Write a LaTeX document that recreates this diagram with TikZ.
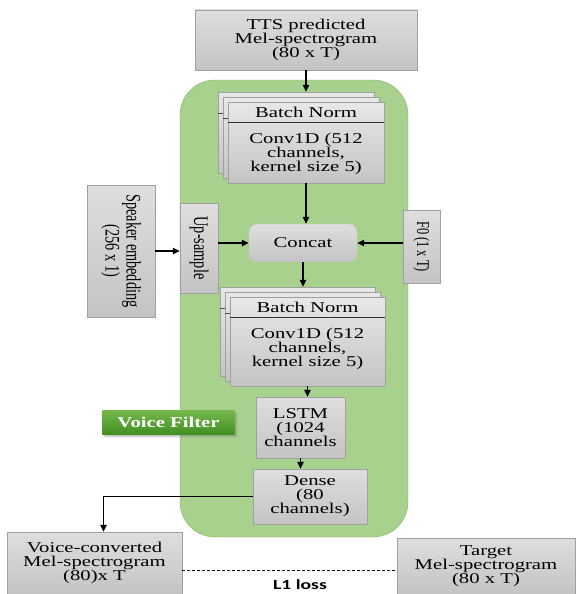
\documentclass[tikz,border=0pt]{standalone}
\usepackage{fontspec}
\setmainfont{Liberation Serif}[FakeStretch=1.38]
\newfontfamily\rotfont{Liberation Serif}[FakeStretch=0.69]
\newfontfamily\lossfont{Carlito}[FakeStretch=1.4]
\usepackage{tikz}
\usetikzlibrary{arrows.meta, calc, shadows}
\definecolor{boxtop}{RGB}{222,222,222}
\definecolor{boxbot}{RGB}{196,196,196}
\definecolor{edgegray}{RGB}{160,160,160}
\definecolor{filtergreen}{RGB}{169,209,142}
\definecolor{filteredge}{RGB}{125,184,92}
\definecolor{tagtop}{RGB}{118,184,76}
\definecolor{tagbot}{RGB}{64,142,34}

\tikzset{
  graybox/.style={draw=edgegray, top color=boxtop, bottom color=boxbot, inner sep=1pt,
    align=center, font=\fontsize{15}{14}\selectfont},
  sheet/.style={draw=edgegray, top color=boxtop!70!white, bottom color=boxbot,
    minimum width=156pt, minimum height=81pt},
  sidetext/.style={rotate=-90, align=center, font=\fontsize{20.7}{21}\rotfont},
  flow/.style={-{Triangle[length=7pt,width=6.5pt]}, line width=1.4pt},
}

\begin{document}
\begin{tikzpicture}[x=1pt,y=-1pt]
  \useasboundingbox (0,0) rectangle (576,594);
  % voice filter block
  \node[draw=filteredge, fill=filtergreen, rounded corners=35pt, minimum width=228pt,
    minimum height=457pt] (filter) at (294,308.5) {};
  \node[graybox, minimum width=222pt, minimum height=60pt] (tts) at (306,40)
    {TTS predicted\\Mel-spectrogram\\(80 x T)};
  % first conv stack
  \foreach \d/\n in {10/c,5/b}{
    \node[sheet] (conv1\n) at (306-\d,142.5-\d) {};
    \draw[black!70] ($(conv1\n.north west)+(0,21)$) -- ($(conv1\n.north east)+(0,21)$);
  }
  \node[sheet] (conv1) at (306,142.5) {};
  \draw[black!80] ($(conv1.north west)+(0,20)$) -- ($(conv1.north east)+(0,20)$);
  \node[font=\fontsize{15}{14}\selectfont] (norm1) at ($(conv1.north)+(0,10.5)$) {Batch Norm};
  \node[align=center, font=\fontsize{15}{13.5}\selectfont] (body1) at ($(conv1.north)+(0,52)$)
    {Conv1D (512\\channels,\\kernel size 5)};
  % concat and side inputs
  \node[graybox, draw=gray!45, rounded corners=8pt, minimum width=108pt, minimum height=38pt]
    (concat) at (303,243) {Concat};
  \node[graybox, minimum width=68pt, minimum height=132pt] (spk) at (121,251) {};
  \node[sidetext] (spktext) at (spk) {Speaker embedding\\(256 x 1)};
  \node[graybox, minimum width=38pt, minimum height=90pt] (up) at (199,248) {};
  \node[sidetext] (uptext) at (up) {Up-sample};
  \node[graybox, minimum width=37pt, minimum height=73pt] (f0) at (421.5,246.5) {};
  \node[sidetext, font=\fontsize{18}{18}\rotfont] (f0text) at (f0) {F0 (1 x T)};
  % second conv stack
  \foreach \d/\n in {10/c,5/b}{
    \node[sheet, minimum width=155pt, minimum height=89pt] (conv2\n) at (307.5-\d,341.5-\d) {};
    \draw[black!70] ($(conv2\n.north west)+(0,21)$) -- ($(conv2\n.north east)+(0,21)$);
  }
  \node[sheet, minimum width=155pt, minimum height=89pt] (conv2) at (307.5,341.5) {};
  \draw[black!80] ($(conv2.north west)+(0,20)$) -- ($(conv2.north east)+(0,20)$);
  \node[font=\fontsize{15}{14}\selectfont] (norm2) at ($(conv2.north)+(0,10.5)$) {Batch Norm};
  \node[align=center, font=\fontsize{15}{13.5}\selectfont] (body2) at ($(conv2.north)+(0,52)$)
    {Conv1D (512\\channels,\\kernel size 5)};
  \node[graybox, minimum width=89pt, minimum height=61pt] (lstm) at (300.5,427.5)
    {LSTM\\(1024\\channels};
  \node[graybox, minimum width=114pt, minimum height=55pt] (dense) at (310,496.5)
    {Dense\\(80\\channels)};
  \node[top color=tagtop, bottom color=tagbot, text=white, rounded corners=1pt,
    drop shadow={opacity=0.35}, minimum width=133pt, minimum height=25pt,
    font=\fontsize{15}{15}\selectfont\bfseries] (vftag) at (168.5,422.5) {Voice Filter};
  % outputs
  \node[graybox, minimum width=175pt, minimum height=62pt] (vc) at (94.5,563)
    {Voice-converted\\Mel-spectrogram\\(80)x T};
  \node[graybox, minimum width=178pt, minimum height=56pt] (target) at (486,566)
    {Target\\Mel-spectrogram\\(80 x T)};
  \coordinate (lossline) at (0,570);
  \draw[dash pattern=on 3pt off 2pt, line width=0.8pt] (vc.east |- lossline) -- (target.west |- lossline);
  \node[font=\fontsize{14}{14}\lossfont\bfseries] (loss) at (300,585) {L1 loss};
  % arrows
  \draw[flow] (tts.south) -- (tts.south |- conv1c.north);
  \draw[flow] (conv1.south) -- (conv1.south |- concat.north);
  \draw[flow] (spk.east) -- (spk.east -| up.west);
  \draw[flow] (up.east |- concat.west) -- (concat.west);
  \draw[flow] (f0.west |- concat.east) -- (concat.east);
  \draw[flow] (concat.south) -- (concat.south |- conv2c.north);
  \draw[flow] (conv2.south) -- (conv2.south |- lstm.north);
  \draw[flow] (lstm.south) -- (lstm.south |- dense.north);
  \draw[flow] (dense.west) -| ($(vc.north)+(9,0)$);
\end{tikzpicture}
\end{document}
